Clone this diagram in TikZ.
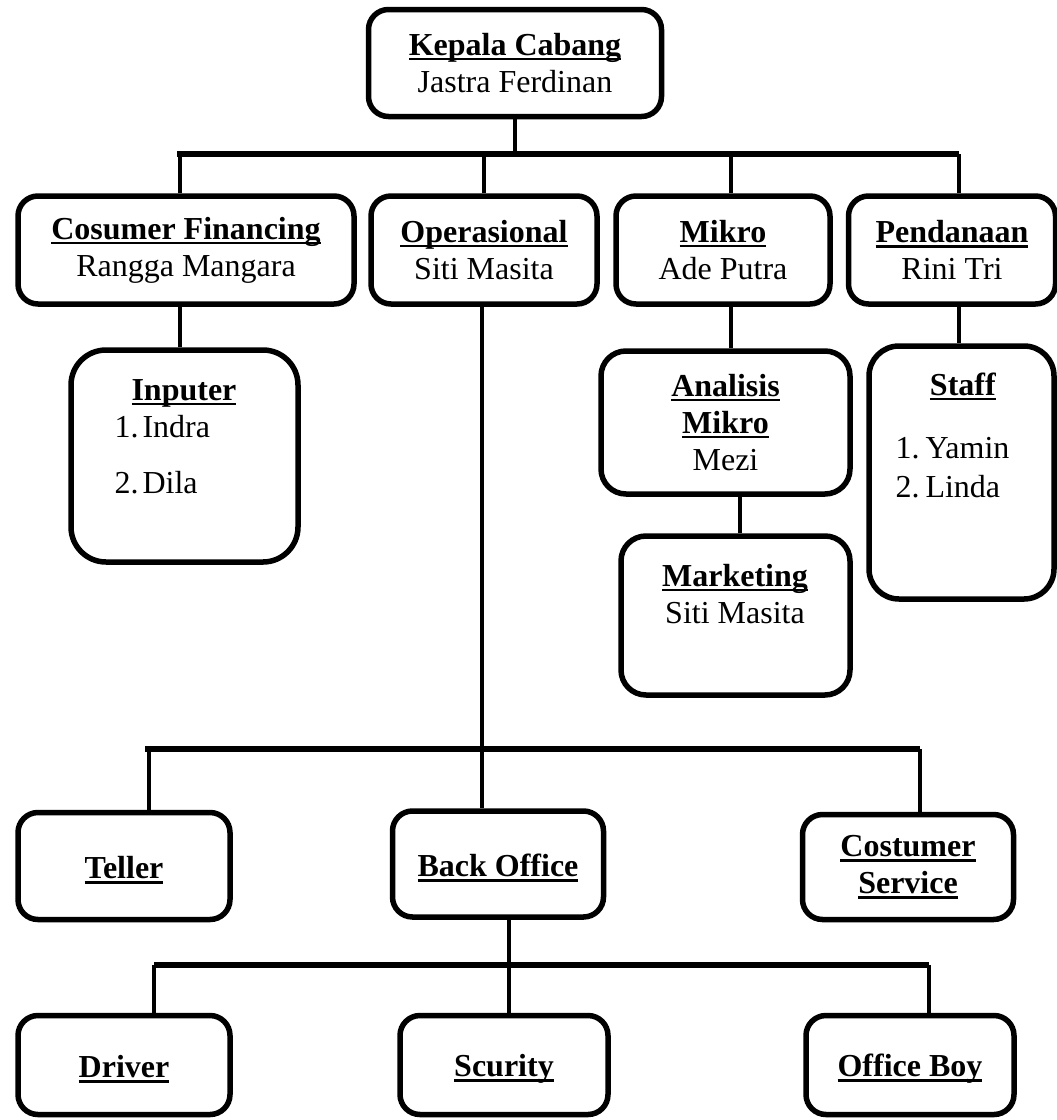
\documentclass[tikz,border=0pt]{standalone}
\usepackage{fontspec}
\setmainfont{Liberation Serif}
\usetikzlibrary{positioning}

\newsavebox{\judulbox}
\newcommand{\judul}[1]{\sbox{\judulbox}{\textbf{#1}}\rlap{\rule[-5pt]{\wd\judulbox}{2.4pt}}\usebox{\judulbox}}

\tikzset{
  kotak/.style={draw, line width=5.5pt, rounded corners=20pt, align=center, inner sep=4pt, execute at begin node={\rule{0pt}{30pt}}},
  garis/.style={line width=4pt},
  jalur/.style={line width=6pt},
}

\begin{document}
\begin{tikzpicture}[x=1pt, y=-1pt, font=\fontsize{32}{37}\selectfont]
    \useasboundingbox (0,0) rectangle (1057,1120);

    % Kepala cabang
    \node[kotak, minimum width=293pt, minimum height=107pt] (kepala) at (515,63) {\judul{Kepala Cabang}\\Jastra Ferdinan};

    % Bagian di bawah kepala cabang
    \node[kotak, minimum width=336pt, minimum height=108pt] (cosumer) at (186,250) {\judul{Cosumer Financing}\\Rangga Mangara};
    \node[kotak, minimum width=226pt, minimum height=108pt] (operasional) at (484,250) {\judul{Operasional}\\Siti Masita};
    \node[kotak, minimum width=214pt, minimum height=108pt] (mikro) at (723,250) {\judul{Mikro}\\Ade Putra};
    \node[kotak, minimum width=207pt, minimum height=108pt] (pendanaan) at (952,250) {\judul{Pendanaan}\\Rini Tri};

    % Kotak bawahan
    \node[kotak, rounded corners=35pt, minimum width=227pt, minimum height=212pt] (inputer) at (184.5,456) {};
    \node[kotak, rounded corners=25pt, minimum width=249pt, minimum height=143pt] (analisis) at (725.5,422.5) {\judul{Analisis}\\\judul{Mikro}\\Mezi};
    \node[kotak, rounded corners=25pt, minimum width=229pt, minimum height=159pt] (marketing) at (735.5,615.5) {};
    \node[kotak, rounded corners=30pt, minimum width=185pt, minimum height=253pt] (staff) at (961.5,472.5) {};

    % Isi kotak bawahan
    \node[anchor=base] (inputerJudul) at (184,400) {\judul{Inputer}};
    \node[anchor=base west] (inputer1) at (111,437) {\makebox[28pt][l]{1.}Indra};
    \node[anchor=base west] (inputer2) at (111,493) {\makebox[28pt][l]{2.}Dila};
    \node[align=center] (marketingIsi) at (735,594) {\judul{Marketing}\\Siti Masita};
    \node[anchor=base] (staffJudul) at (963,395) {\judul{Staff}};
    \node[anchor=base west] (staff1) at (892,458) {\makebox[30pt][l]{1.}Yamin};
    \node[anchor=base west] (staff2) at (892,497) {\makebox[30pt][l]{2.}Linda};

    % Bagian operasional
    \node[kotak, minimum width=212pt, minimum height=107pt] (teller) at (124,866) {\judul{Teller}};
    \node[kotak, minimum width=211pt, minimum height=106pt] (backoffice) at (498,864) {\judul{Back Office}};
    \node[kotak, minimum width=211pt, minimum height=105pt] (cs) at (908,867) {\judul{Costumer}\\\judul{Service}};

    % Bagian back office
    \node[kotak, minimum width=212pt, minimum height=99pt] (driver) at (124,1065) {\judul{Driver}};
    \node[kotak, minimum width=208pt, minimum height=99pt] (scurity) at (504,1065) {\judul{Scurity}};
    \node[kotak, minimum width=208pt, minimum height=99pt] (officeboy) at (910,1065) {\judul{Office Boy}};

    % Garis mendatar
    \coordinate (bus1L) at (177,154);
    \coordinate (bus1R) at (959,154);
    \coordinate (bus2L) at (145,749);
    \coordinate (bus2R) at (920,749);
    \coordinate (bus3L) at (154,965);
    \coordinate (bus3R) at (929,965);
    \draw[jalur] (bus1L) -- (bus1R);
    \draw[jalur] (bus2L) -- (bus2R);
    \draw[jalur] (bus3L) -- (bus3R);

    % Garis dari kepala cabang
    \draw[garis] (kepala.south) -- (kepala.south |- bus1L);
    \draw[garis] ([xshift=-6pt]cosumer.north) -- ([xshift=-6pt]cosumer.north |- bus1L);
    \draw[garis] (operasional.north) -- (operasional.north |- bus1L);
    \draw[garis] ([xshift=8pt]mikro.north) -- ([xshift=8pt]mikro.north |- bus1L);
    \draw[garis] ([xshift=7pt]pendanaan.north) -- ([xshift=7pt]pendanaan.north |- bus1L);

    % Garis ke bawahan
    \draw[garis] ([xshift=-6pt]cosumer.south) -- ([xshift=-6pt]cosumer.south |- inputer.north);
    \draw[garis] ([xshift=8pt]mikro.south) -- ([xshift=8pt]mikro.south |- analisis.north);
    \draw[garis] ([xshift=14pt]analisis.south) -- ([xshift=14pt]analisis.south |- marketing.north);
    \draw[garis] ([xshift=7pt]pendanaan.south) -- ([xshift=7pt]pendanaan.south |- staff.north);

    % Garis operasional
    \draw[garis] ([xshift=-2pt]operasional.south) -- ([xshift=-2pt]operasional.south |- backoffice.north);
    \draw[garis] ([xshift=25pt]teller.north) -- ([xshift=25pt]teller.north |- bus2L);
    \draw[garis] ([xshift=12pt]cs.north) -- ([xshift=12pt]cs.north |- bus2L);

    % Garis back office
    \draw[garis] ([xshift=11pt]backoffice.south) -- ([xshift=11pt]backoffice.south |- scurity.north);
    \draw[garis] ([xshift=30pt]driver.north) -- ([xshift=30pt]driver.north |- bus3L);
    \draw[garis] ([xshift=19pt]officeboy.north) -- ([xshift=19pt]officeboy.north |- bus3L);
\end{tikzpicture}
\end{document}
